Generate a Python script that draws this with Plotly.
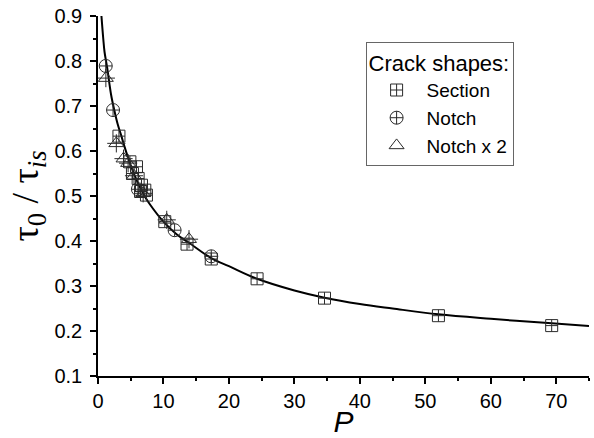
import plotly.graph_objects as go

# Fitted curve
curve_P = [0.5, 0.8, 1.0, 1.4, 2.0, 2.5, 3.0, 3.6, 4.0, 5.0, 6.0, 7.0, 8.0, 10.0, 12.0, 14.0,
           17.3, 20.0, 24.3, 30.0, 34.6, 40.0, 45.0, 52.0, 60.0, 69.3, 75.0]
curve_y = [0.905, 0.85, 0.82, 0.785, 0.725, 0.69, 0.66, 0.632, 0.612, 0.568, 0.532, 0.503, 0.48,
           0.443, 0.415, 0.395, 0.362, 0.344, 0.316, 0.29, 0.274, 0.26, 0.25, 0.237, 0.227, 0.217, 0.211]

# Section
section_P = [3.2, 4.87, 5.26, 5.88, 6.13, 6.5, 6.64, 7.15, 7.4, 10.2, 13.6, 17.3, 24.3, 34.6, 52.0, 69.3]
section_y = [0.633, 0.576, 0.55, 0.565, 0.539, 0.51, 0.524, 0.513, 0.502, 0.443, 0.393, 0.36, 0.316, 0.273, 0.234, 0.212]

# Notch
notch_P = [1.18, 2.3, 6.1, 11.7, 17.3]
notch_y = [0.789, 0.691, 0.515, 0.424, 0.366]

# Notch x 2
notch2_P = [1.2, 2.8, 3.9, 4.6, 5.5, 6.9, 10.5, 13.9]
notch2_y = [0.762, 0.617, 0.583, 0.573, 0.545, 0.506, 0.447, 0.404]

x_ticks = [0, 10, 20, 30, 40, 50, 60, 70]
y_ticks = [0.1, 0.2, 0.3, 0.4, 0.5, 0.6, 0.7, 0.8, 0.9]

ink = "#2a2a2a"
msize = 12

fig = go.Figure()
fig.add_trace(go.Scatter(x=curve_P, y=curve_y, mode="lines", line=dict(color="black", width=2, shape="spline"),
                         showlegend=False, hoverinfo="skip"))
fig.add_trace(go.Scatter(x=section_P, y=section_y, mode="markers", name="Section",
                         marker=dict(symbol="square-cross-open", size=msize, color=ink, line=dict(width=1))))
fig.add_trace(go.Scatter(x=notch_P, y=notch_y, mode="markers", name="Notch",
                         marker=dict(symbol="circle-cross-open", size=msize + 1, color=ink, line=dict(width=1))))
fig.add_trace(go.Scatter(x=notch2_P, y=notch2_y, mode="markers", name="Notch x 2",
                         marker=dict(symbol="triangle-up-open", size=msize + 1, color=ink, line=dict(width=1))))
fig.add_trace(go.Scatter(x=notch2_P, y=notch2_y, mode="markers", showlegend=False,
                         marker=dict(symbol="cross-thin-open", size=msize + 1, color=ink, line=dict(width=1, color=ink))))

fig.update_layout(
    width=594, height=438,
    margin=dict(l=98, r=5, t=16, b=62),
    paper_bgcolor="white", plot_bgcolor="white",
    font=dict(family="Liberation Sans, Arial, sans-serif", size=20, color="black"),
    xaxis=dict(range=[0, 75], tickvals=x_ticks, showgrid=False, zeroline=False,
               automargin=False,
               showline=True, linecolor="black", linewidth=1.5, ticks="outside", ticklen=6, tickwidth=1.5,
               tickcolor="black", minor=dict(tickvals=[5, 15, 25, 35, 45, 55, 65, 75], ticks="outside", ticklen=3,
                                              tickcolor="black", tickwidth=1.5),
               title=dict(text="<i>P</i>", font=dict(size=30), standoff=2)),
    yaxis=dict(range=[0.1, 0.9], tickvals=y_ticks,
               tickformat=".1f", showgrid=False, zeroline=False, automargin=False,
               showline=True, linecolor="black", linewidth=1.5, ticks="outside", ticklen=6, tickwidth=1.5,
               tickcolor="black", ticklabelstandoff=4,
               minor=dict(tickvals=[0.15, 0.25, 0.35, 0.45, 0.55, 0.65, 0.75, 0.85], ticks="outside", ticklen=3,
                          tickcolor="black", tickwidth=1.5),
               title=dict(text="τ<sub>0</sub> / τ<sub><i>is</i></sub>",
                          font=dict(family="Liberation Serif, Times New Roman, serif", size=38), standoff=4)),
    legend=dict(x=0.545, y=0.929, xanchor="left", yanchor="top", bordercolor="#666", borderwidth=1,
                bgcolor="white", font=dict(size=19), tracegroupgap=0, itemwidth=50,
                title=dict(text="Crack shapes:", font=dict(size=22))),
)

fig.write_html("out.html", config={"displayModeBar": False},
               post_script="document.body.style.margin='0';document.body.style.overflow='hidden';")
